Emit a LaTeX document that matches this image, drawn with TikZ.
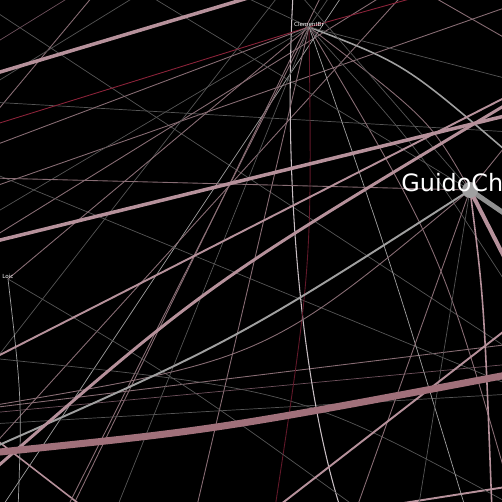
\documentclass[tikz,border=0pt]{standalone}
\usepackage{fontspec}
\setmainfont{DejaVu Sans}
\usepackage{xcolor}
\usepackage{tikz}
\usetikzlibrary{positioning}

\definecolor{rose}{RGB}{182,145,155}
\definecolor{rosedark}{RGB}{160,112,122}
\definecolor{ash}{RGB}{160,160,160}
\definecolor{pale}{RGB}{200,190,195}
\definecolor{wine}{RGB}{140,35,58}
\definecolor{dimrose}{RGB}{110,80,92}
\definecolor{dimgrey}{RGB}{85,85,85}

\tikzset{
  heavy/.style={line width=4pt, rosedark},
  wide/.style={line width=2pt, rose},
  mid/.style={line width=1.1pt, rose},
  fine/.style={line width=0.5pt, rose!75!black},
  hair/.style={line width=0.4pt, dimgrey},
  redline/.style={line width=0.5pt, wine},
  greyline/.style={line width=0.6pt, pale},
  tinylbl/.style={inner sep=0.3pt, text=white, font=\fontsize{3.2}{3.5}\selectfont}
}

\begin{document}
\begin{tikzpicture}[x=0.02cm, y=-0.02cm]
\fill[black] (0,0) rectangle (502,502);
\useasboundingbox (0,0) rectangle (502,502);
\clip (0,0) rectangle (502,502);

% hubs
\coordinate (guido) at (470,190);
\coordinate (clement) at (309,27);
\coordinate (loic) at (8,279);

% free ends, just outside the frame
\foreach \n/\x/\y in {w78/-20/78, n268/268/-8, w245/-20/245, e111/525/111,
    w453/-10/453, e374/512/374, w473/-10/473, e101/512/101, w360/-10/360, e94/512/94,
    s284/276/508, e325/512/325, w444/-10/449, e231/530/231, e288/521/290, s492/492/512,
    w404/-10/406, n293/293/-5, s340/340/507, w126/-10/126, n442/442/-10, s66/66/510,
    e156/512/156, e80/512/80, s275/275/508, e490/510/490, w147/-10/147, w216/-10/216,
    s116/116/510, s196/196/510, e292/512/292, n230/230/-10, n334/334/-10, s466/466/510,
    n140/140/-10, w178/-10/178, s418/418/510, s356/356/510, e138/512/138, n296/296/-10,
    s18/18/510, s360/360/510, w8/-10/8, e351/512/351, n98/98/-10, w117/-8/117,
    n146/146/-10, w86/-10/86, n73/73/-5, w45/-8/45, w102/-10/102, e132/512/132,
    w188/-10/188, n530/530/-1, w239/-10/239, n392/392/-10, n346/346/-10, sw/0/510,
    n324/324/-10, s71/71/510, w408/-10/408, e344/512/344, w413/-10/413, e364/512/364,
    w424/-10/424, e394/512/394, s359/359/510, e486/512/486, w435/-10/435, s87/87/510,
    w364/-8/364, n283/283/-10, n407/407/-10, w447/-8/447, w358/-10/358, e505/512/505,
    w172/-10/172, e386/512/386, n430/430/-5, e42/512/42}
  \coordinate (\n) at (\x,\y);

% background web
\draw[hair] (w8) -- (e351);
\draw[fine] (n98) -- (w117);
\draw[hair] (n146) -- (w86);
\draw[hair, dimrose] (n73) -- (w45);
\draw[hair] (w102) -- (e132);
\draw[fine] (w188) -- (n530);
\draw[fine] (w239) -- (n392);
\draw[hair, ash] (n346) -- (sw);
\draw[fine] (n324) -- (s71);
\draw[fine] (w408) -- (e344);
\draw[hair, dimrose] (w413) -- (e364);
\draw[hair] (w424) -- (e394);
\draw[mid] (s359) -- (e486);
\draw[mid, line width=0.9pt] (w435) -- (s87);
\draw[hair] (w364) -- (n283);
\draw[fine] (n407) -- (w447);
\draw[hair] (w358) .. controls (300,390) .. (e505);
\draw[hair] (w172) -- (e386);
\draw[fine] (n430) -- (e42);
\draw[greyline] (n293) .. controls (283,170) and (300,380) .. (s340);

% clement
\draw[redline] (clement) -- (w126);
\draw[redline] (clement) -- (n442);
\draw[fine] (clement) -- (loic);
\draw[fine] (clement) -- (s66);
\draw[ash, line width=0.9pt] (clement) .. controls (405,64) .. (e156);
\draw[hair] (clement) -- (e80);
\draw[redline, wine!70!black] (clement) .. controls (312,264) .. (s275);
\draw[fine] (clement) .. controls (440,248) .. (e490);
\draw[fine] (clement) .. controls (430,120) .. (guido);
\draw[fine] (clement) -- (w147);
\draw[hair] (clement) -- (w216);
\draw[hair] (clement) -- (s116);
\draw[fine] (clement) -- (s196);
\draw[hair] (clement) .. controls (420,150) .. (e292);
\draw[hair] (clement) -- (n230);
\draw[hair] (clement) -- (n334);
\draw[hair, ash] (clement) .. controls (390,260) .. (s466);

% loic
\draw[hair, ash] (loic) .. controls (22,400) .. (s18);
\draw[hair] (loic) .. controls (180,380) .. (s360);

% guido
\draw[hair] (guido) -- (n140);
\draw[fine] (guido) -- (w178);
\draw[hair] (guido) -- (s418);
\draw[fine] (guido) -- (s356);
\draw[fine] (guido) -- (e138);
\draw[hair] (guido) -- (n296);
\draw[fine] (guido) .. controls (267,359) .. (w404);
\draw[mid, line width=0.9pt] (guido) .. controls (484,300) .. (s492);
\draw[ash, line width=1.1pt] (guido) .. controls (235,341) .. (w444);
\draw[ash!90!black, line width=2.8pt] (guido) -- (e231);
\draw[rose, line width=2.3pt] (guido) -- (e288);

% heavy links
\draw[wide] (w78) -- (n268);
\draw[wide] (w245) -- (e111);
\draw[wide, line width=1.7pt] (w473) .. controls (207,284) .. (e101);
\draw[mid] (w360) -- (e94);
\draw[mid] (s284) -- (e325);
\draw[heavy] (w453) .. controls (215,430) .. (e374);

% labels
\node (guidodot) [circle, fill=ash, minimum size=0.32cm, inner sep=0pt] at (guido) {};
\node (guidolbl) [anchor=base west, inner sep=0pt, text=white, font=\fontsize{13.6}{14}\selectfont]
  at ([xshift=-1.38cm, yshift=-0.04cm]guido) {GuidoCh};
\node (clementlbl) [tinylbl, above=0pt of clement] {ClementBr};
\node (loiclbl) [tinylbl, above=0pt of loic] {Loic};
\end{tikzpicture}
\end{document}
